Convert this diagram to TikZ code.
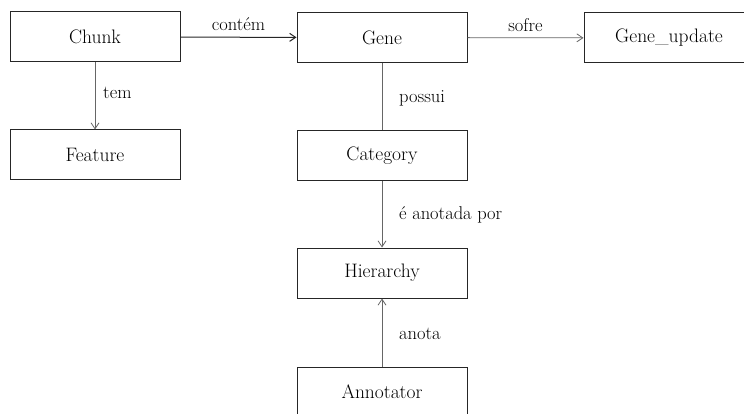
\documentclass[tikz,border=0pt]{standalone}
\usetikzlibrary{arrows.meta}
\begin{document}
\begin{tikzpicture}[x=1pt,y=-1pt,
  font=\fontsize{19.5}{22}\selectfont,
  entity/.style={draw=black!85, line width=1pt, minimum width=170pt, minimum height=50pt, inner sep=0pt, anchor=center},
  rel/.style={draw=black!60, line width=0.8pt, -{Straight Barb[length=6pt,width=8pt]}},
  plain/.style={draw=black!60, line width=0.8pt},
  lbl/.style={inner sep=0pt, text=black, font=\fontsize{18.5}{22}\selectfont}]
\useasboundingbox (0,0) rectangle (744,414);
\clip (0,0) rectangle (744,414);

% entities
\node[entity] (chunk)    at (95,37)    {Chunk};
\node[entity] (gene)     at (382,37.5) {Gene};
\node[entity] (gupdate)  at (669,38)   {Gene\_update};
\node[entity] (feature)  at (95,155)   {Feature};
\node[entity] (category) at (382,156)  {Category};
\node[entity] (hier)     at (382,273)  {Hierarchy};
\node[entity] (annot)    at (382,392)  {Annotator};

% relationships
\draw[rel, draw=black!85, line width=1pt] (chunk) -- node[lbl, above=6pt] {contém} (gene);
\draw[rel] (gene) -- node[lbl, above=6pt] {sofre} (gupdate);
\draw[rel] (chunk) -- (feature);
\draw[plain] (gene) -- (category);
\draw[rel] (category) -- (hier);
\draw[rel] (annot) -- (hier);

% labels of the vertical relationships
\node[lbl, anchor=west] (ltem)    at (103,93)  {tem};
\node[lbl, anchor=west] (lpossui) at (399,98)  {possui};
\node[lbl, anchor=west] (lanot)   at (399,215) {é anotada por};
\node[lbl, anchor=west] (lanota)  at (399,334) {anota};
\end{tikzpicture}
\end{document}
